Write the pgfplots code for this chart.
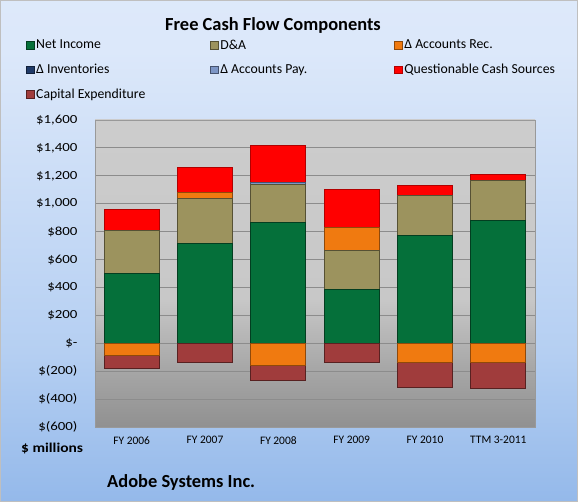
\documentclass[border=0pt]{standalone}
\usepackage{graphicx}
\usepackage{pgfplots}
\pgfplotsset{compat=1.18}
\usepackage{fontspec}
\setmainfont{Carlito}
\newcommand\yt[1]{\scalebox{1.3}[1.08]{#1}}
\definecolor{cNI}{HTML}{05703A}
\definecolor{cDA}{HTML}{9C935E}
\definecolor{cAR}{HTML}{F07A10}
\definecolor{cINV}{HTML}{1F3A68}
\definecolor{cAP}{HTML}{7D96C6}
\definecolor{cQ}{HTML}{FF0000}
\definecolor{cCX}{HTML}{A03C3C}
\definecolor{pb0}{HTML}{808080}
\definecolor{pb1}{HTML}{A8A8A8}
\definecolor{pb2}{HTML}{C8C8C8}
\definecolor{pb3}{HTML}{D0D0D0}
\definecolor{ob0}{HTML}{5D94DD}
\definecolor{ob1}{HTML}{B5CFF2}
\definecolor{ob2}{HTML}{DCE8FA}
\definecolor{ob3}{HTML}{E2ECFB}
\pgfdeclareverticalshading{plotbg}{100bp}{color(0bp)=(pb0); color(18bp)=(pb0); color(35bp)=(pb1); color(46bp)=(pb2); color(100bp)=(pb3)}
\pgfdeclareverticalshading{outerbg}{100bp}{color(0bp)=(ob0); color(40bp)=(ob1); color(70bp)=(ob2); color(100bp)=(ob3)}
\pgfplotsset{
  sqleg/.style={legend image code/.code={\draw[##1, line width=0.6bp] (0bp,-3.75bp) rectangle (7.5bp,3.75bp);}},
  barNI/.style={fill=cNI, draw=cNI!55!black, line width=1bp, sqleg},
  barDA/.style={fill=cDA, draw=cDA!55!black, line width=1bp, sqleg},
  barAR/.style={fill=cAR, draw=cAR!60!black, line width=1bp, sqleg},
  barINV/.style={fill=cINV, draw=cINV!55!black, line width=1bp, sqleg},
  barAP/.style={fill=cAP, draw=cAP!55!black, line width=1bp, sqleg},
  barQ/.style={fill=cQ, draw=cQ!70!black, line width=1bp, sqleg},
  barCX/.style={fill=cCX, draw=cCX!55!black, line width=1bp, sqleg},
  common/.style={
    at={(95bp,75bp)}, anchor=south west,
    scale only axis, width=440bp, height=307bp,
    xmin=-0.5, xmax=5.5, ymin=-600, ymax=1600,
    ybar stacked, bar width=55bp,
  },
}
\begin{document}
\begin{tikzpicture}[x=1bp,y=1bp]
\path[use as bounding box] (0,0) rectangle (578,502);
\shade[shading=outerbg] (0,0) rectangle (578,502);
\draw[gray!50, line width=1bp] (0.5,0.5) rectangle (577.5,501.5);
\begin{axis}[common,
  axis background/.style={shade, shading=plotbg},
  xtick={0,1,2,3,4,5},
  xticklabels={FY 2006,FY 2007,FY 2008,FY 2009,FY 2010,TTM 3-2011},
  ytick={-600,-400,-200,0,200,400,600,800,1000,1200,1400,1600},
  yticklabels={{},{\yt{\$(400)}},{\yt{\$(200)}},{\yt{\$-}},{\yt{\$200}},{\yt{\$400}},{\yt{\$600}},{\yt{\$800}},{\yt{\$1,000}},{\yt{\$1,200}},{\yt{\$1,400}},{\yt{\$1,600}}},
  ymajorgrids, grid style={draw=black!45, line width=0.8bp},
  major tick length=0pt,
  axis line style={draw=black!40},
  tick label style={font=\fontsize{11.5}{13}\selectfont},
  xticklabel style={yshift=-6bp},
  yticklabel style={xshift=-14bp},
  legend columns=3,
  legend style={at={(axis description cs:-0.157,1.2687)}, anchor=north west,
    draw=none, fill=none, font=\fontsize{13.8}{16}\selectfont,
    row sep=9.5bp, inner sep=0pt,
    /tikz/every even column/.append style={column sep=0bp}},
  after end axis/.code={\coordinate (LL) at (rel axis cs:0,0);},
]
\addplot[barNI] coordinates {(0,500) (1,718) (2,862) (3,382) (4,770) (5,878)};
\addlegendentry{\makebox[172bp][l]{Net Income}}
\addplot[barDA] coordinates {(0,307) (1,316) (2,274) (3,280) (4,290) (5,286)};
\addlegendentry{\makebox[172bp][l]{D\&A}}
\addplot[barAR] coordinates {(0,0) (1,46) (2,0) (3,170) (4,0) (5,0)};
\addlegendentry{\makebox[172bp][l]{Δ Accounts Rec.}}
\addlegendimage{barINV}
\addlegendentry{\makebox[172bp][l]{Δ Inventories}}
\addplot[barAP] coordinates {(0,0) (1,0) (2,15) (3,0) (4,0) (5,0)};
\addlegendentry{\makebox[172bp][l]{Δ Accounts Pay.}}
\addplot[barQ] coordinates {(0,154) (1,179) (2,265) (3,272) (4,70) (5,48)};
\addlegendentry{\makebox[172bp][l]{Questionable Cash Sources}}
\addlegendimage{barCX}
\addlegendentry{\makebox[172bp][l]{Capital Expenditure}}
\end{axis}
\begin{axis}[common, axis lines=none, xtick=\empty, ytick=\empty]
\addplot[barAR] coordinates {(0,-91) (1,0) (2,-160) (3,0) (4,-136) (5,-136)};
\addplot[barCX] coordinates {(0,-88) (1,-138) (2,-105) (3,-138) (4,-181) (5,-189)};
\end{axis}
\node[font=\bfseries\fontsize{18.5}{22}\selectfont, anchor=base] at (273,471.3) {Free Cash Flow Components};
\node[font=\bfseries\fontsize{13.5}{16}\selectfont, anchor=base west, inner sep=0pt] at (21,49.3) {\scalebox{1.15}[1.0]{\$ millions}};
\node[font=\bfseries\fontsize{18.5}{22}\selectfont, anchor=base west, inner sep=0pt] at (107,14.7) {Adobe Systems Inc.};
\node[anchor=east, text=black, font=\fontsize{11.5}{13}\selectfont, xshift=-14bp] at (LL) {\yt{\$(600)}};
\end{tikzpicture}
\end{document}
